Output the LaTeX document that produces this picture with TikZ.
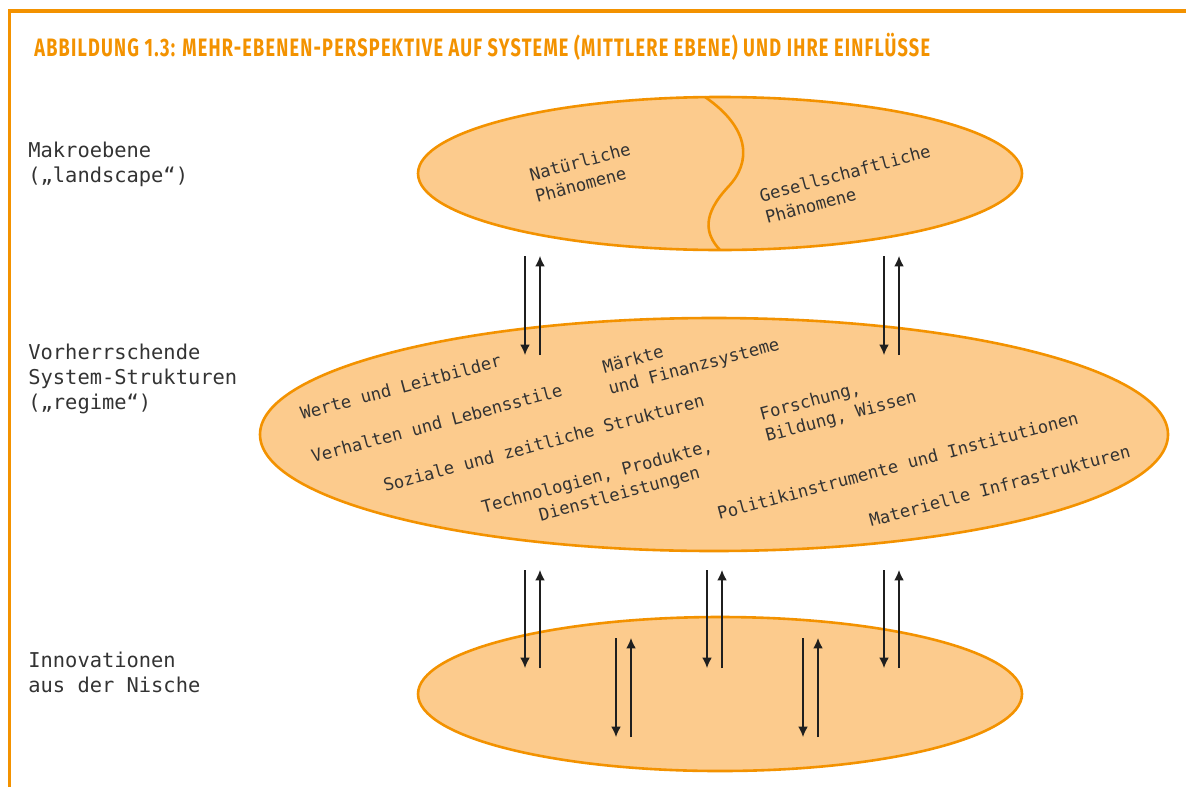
\documentclass[tikz,border=0pt]{standalone}
\usepackage{fontspec}
\setmonofont{DejaVu Sans Mono}
\newfontfamily\titlefont[FakeStretch=0.72,LetterSpace=4.8]{Fira Sans}
\usetikzlibrary{shapes.geometric,arrows.meta}

\definecolor{abborange}{HTML}{F39200}
\definecolor{abbfill}{HTML}{FCCB8D}
\definecolor{abbtext}{HTML}{333333}

\tikzset{
	ebene/.style={ellipse,draw=abborange,fill=abbfill,line width=1.3pt,inner sep=0pt},
	ebenenname/.style={anchor=base west,align=left,inner sep=0pt,text=abbtext,font=\fontsize{10.2}{12.5}\selectfont\ttfamily},
	faktor/.style={anchor=base west,align=left,inner sep=0pt,rotate=15,text=abbtext,font=\fontsize{8.6}{11.25}\selectfont\ttfamily},
	flow/.style={-{Latex[length=5.2pt,width=4.8pt]},line width=0.6pt,draw=black!88}
}

\begin{document}
\begin{tikzpicture}[x=0.5pt,y=-0.5pt]
	\useasboundingbox (0,0) rectangle (1186,787);
	% Rahmen und Titel
	\draw[abborange,line width=1.8pt] (9.3,787) -- (9.3,11) -- (1186,11);
	\node[anchor=base west,inner sep=0pt,text=abborange,font=\titlefont\bfseries\fontsize{12.6}{14}\selectfont] (titel) at (34,56)
		{ABBILDUNG 1.3: MEHR-EBENEN-PERSPEKTIVE AUF SYSTEME (MITTLERE EBENE) UND IHRE EINFLÜSSE};

	% Ebenen
	\node[ebene,minimum width=302pt,minimum height=76.5pt] (makro) at (720,173.5) {};
	\node[ebene,minimum width=454pt,minimum height=116.5pt] (regime) at (714,434.5) {};
	\node[ebene,minimum width=302pt,minimum height=77pt] (nische) at (720,694) {};
	\draw[abborange,line width=1.3pt] (705,97) .. controls (750,128) and (752,162) .. (728,187)
		.. controls (703,214) and (704,233) .. (720,250);

	% Beschriftung links (Position = letzte Zeile)
	\node[ebenenname] (l-makro) at (28,182) {Makroebene\\(„landscape“)};
	\node[ebenenname] (l-regime) at (28,409) {Vorherrschende\\System-Strukturen\\(„regime“)};
	\node[ebenenname] (l-nische) at (28,692) {Innovationen\\aus der Nische};

	% Landscape
	\node[faktor] (natur) at (537,203) {Natürliche\\Phänomene};
	\node[faktor] (gesell) at (767,224) {Gesellschaftliche\\Phänomene};

	% Regime
	\node[faktor] (werte) at (302,420) {Werte und Leitbilder};
	\node[faktor] (verhalten) at (313,463) {Verhalten und Lebensstile};
	\node[faktor] (sozial) at (385,492) {Soziale und zeitliche Strukturen};
	\node[faktor] (technik) at (489,535) {Technologien, Produkte,\\\hspace*{3.1em}Dienstleistungen};
	\node[faktor] (markt) at (610,395) {Märkte\\und Finanzsysteme};
	\node[faktor] (forschung) at (767,442) {Forschung,\\Bildung, Wissen};
	\node[faktor] (politik) at (719,520) {Politikinstrumente und Institutionen};
	\node[faktor] (infra) at (871,527) {Materielle Infrastrukturen};

	% Wechselwirkungen
	\foreach \xa/\ya/\yb [count=\i] in {525/256/355, 884/256/355, 525/570/668, 707/570/668,
		884/570/668, 616/638/737, 803/638/737} {
		\coordinate (ab\i) at (\xa,\ya);
		\coordinate (ae\i) at (\xa,\yb);
		\coordinate (ub\i) at (\xa+15,\yb);
		\coordinate (ue\i) at (\xa+15,\ya);
		\draw[flow] (ab\i) -- (ae\i);
		\draw[flow] (ub\i) -- (ue\i);
	}
\end{tikzpicture}
\end{document}
